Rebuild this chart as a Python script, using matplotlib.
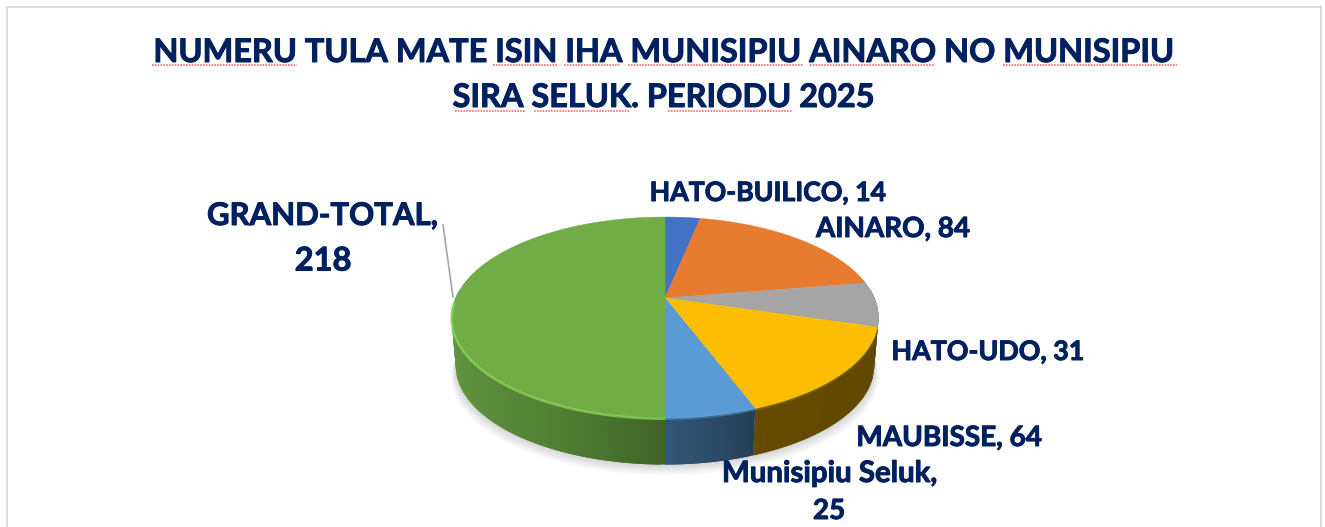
import matplotlib
matplotlib.use("Agg")
import matplotlib.pyplot as plt
import matplotlib.patheffects as pe
from matplotlib.patches import Rectangle
import numpy as np

plt.rcParams["font.family"] = ["Lato", "DejaVu Sans"]

nomes = ["HATO-BUILICO", "AINARO", "HATO-UDO", "MAUBISSE", "Munisipiu Seluk", "GRAND-TOTAL"]
valores = [14, 84, 31, 64, 25, 218]
cores = ["#4472c4", "#e77b30", "#a5a5a5", "#fdbd00", "#5b9bd5", "#70ad47"]

titulo = ["NUMERU TULA MATE ISIN IHA MUNISIPIU AINARO NO MUNISIPIU",
          "SIRA SELUK. PERIODU 2025"]
azul = "#002060"

# geometry of the tilted pie, in pixels
cx, cy = 665, 298
BX, AY, PERSP = 209.4, 96.7, 0.194
PROF = 49
ESCALA_BASE = 0.98


def projeta(theta, base=False):
    """theta em graus, sentido horario a partir do topo"""
    t = np.radians(theta)
    u, v = np.sin(t), np.cos(t)
    w = 1 + PERSP * v
    x, y = BX * u / w, AY * v / w
    if base:
        return cx + ESCALA_BASE * x, cy + PROF - ESCALA_BASE * y
    return cx + x, cy - y


def escurece(cor, f):
    return tuple(c * f for c in matplotlib.colors.to_rgb(cor))


def texto(x, y, s, tam):
    ax.text(x, y, s, ha="center", va="center", fontsize=tam, fontweight="bold", color=azul, zorder=6,
            path_effects=[pe.withStroke(linewidth=0.7, foreground=azul)])


fig = plt.figure(figsize=(13.25, 5.27), dpi=100, facecolor="white")
ax = fig.add_axes([0, 0, 1, 1])
ax.set_xlim(0, 1325)
ax.set_ylim(527, 0)
ax.axis("off")

# moldura
ax.add_patch(Rectangle((7, 6.5), 1313.5, 530, fill=False, edgecolor="#d9d9d9", lw=1.3))

# titulo
texto(665, 52.5, titulo[0], 23.4)
texto(664, 97.5, titulo[1], 23.4)

# sublinhado do corretor ortografico
sublinhados = [(152, 297, 64.5), (493, 557, 64.5), (564, 620, 64.5), (628, 803, 64.5),
               (810, 935, 64.5), (1003, 1177, 64.5),
               (455, 526, 111), (534, 630, 111), (668, 792, 111)]
for x0, x1, y in sublinhados:
    ax.plot([x0, x1], [y, y], color="#f26c70", lw=1.2, ls=(0, (1, 0.7)))

acum = np.cumsum([0] + valores) / sum(valores) * 360
tudo = np.linspace(0, 360, 361)

# sombra por baixo
bx, by = projeta(tudo, base=True)
for i in range(7):
    d = 1 + i * 1.6
    ax.fill(cx + (bx - cx) * (1 + 0.002 * d), by + d, color="black", alpha=0.022, lw=0)

# parede lateral, tiras sobrepostas para nao aparecer emenda
for ini, fim, cor in zip(acum[:-1], acum[1:], cores):
    for a in np.arange(ini, fim, 1.0):
        b = min(a + 2.0, fim)
        if not 85 < (a + b) / 2 < 275:
            continue
        tx, ty = projeta(np.array([a, b]))
        qx, qy = projeta(np.array([b, a]), base=True)
        f = np.interp((tx.mean() - cx), [-214, -100, 0, 90, 214], [0.85, 0.72, 0.57, 0.40, 0.38])
        ax.fill(np.r_[tx, qx], np.r_[ty, qy], facecolor=escurece(cor, f), lw=0)

# fatias de cima
for ini, fim, cor in zip(acum[:-1], acum[1:], cores):
    th = np.linspace(ini, fim, 120)
    x, y = projeta(th)
    ax.fill(np.r_[cx, x], np.r_[cy, y], facecolor=cor, edgecolor=cor, lw=0.3, zorder=3)

# brilho na borda frontal
for ini, fim, cor, alfa in zip(acum[:-1], acum[1:], cores, [0, 0, 0, 0.15, 0.3, 0.7]):
    if alfa == 0:
        continue
    th = np.linspace(max(ini, 100), min(fim, 268), 100)
    x, y = projeta(th)
    clara = tuple(min(1, c * 1.28) for c in matplotlib.colors.to_rgb(cor))
    ax.plot(x, y + 0.8, color=clara, lw=1.8, alpha=alfa, zorder=4, solid_capstyle="butt")

# linha guia
ax.plot([443, 453], [225, 297], color="#a6a6a6", lw=1.2, zorder=2)

# rotulos
texto(767.5, 193, f"{nomes[0]}, {valores[0]}", 19.2)
texto(893, 229, f"{nomes[1]}, {valores[1]}", 20)
texto(987.5, 352, f"{nomes[2]}, {valores[2]}", 19.3)
texto(949, 438, f"{nomes[3]}, {valores[3]}", 20.1)
texto(829, 474, f"{nomes[4]},", 21.2)
texto(829, 511, f"{valores[4]}", 20)
texto(322.5, 216, f"{nomes[5]},", 22.4)
texto(323, 261, f"{valores[5]}", 23.5)

fig.savefig("out.png", dpi=100, facecolor="white")
